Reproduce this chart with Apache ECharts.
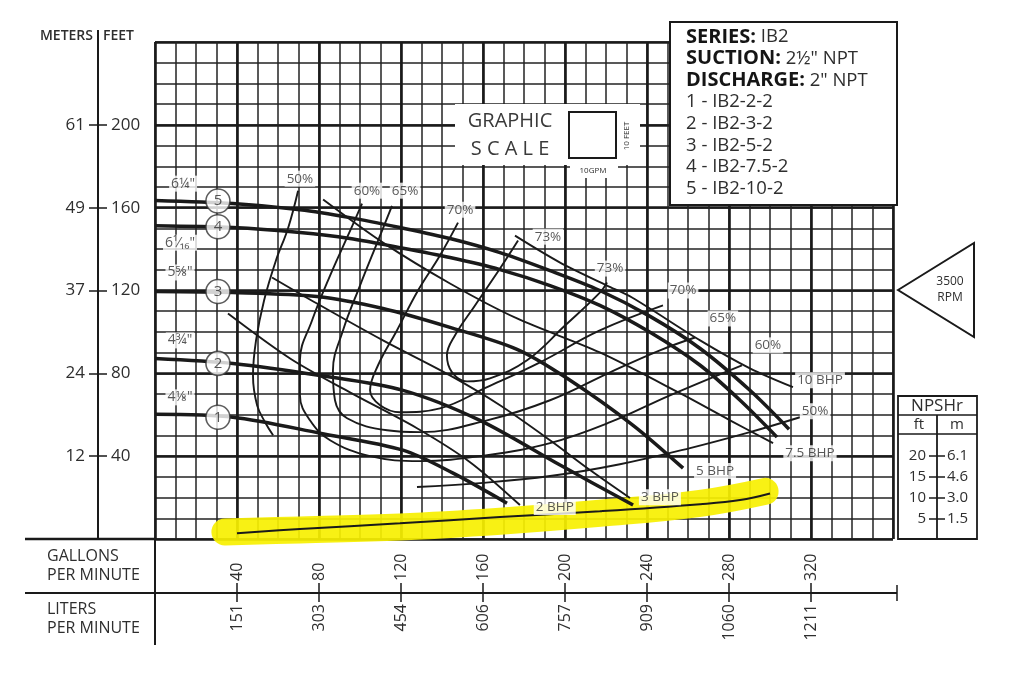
<!DOCTYPE html>
<html><head><meta charset="utf-8">
<script src="https://cdn.jsdelivr.net/npm/echarts@6/dist/echarts.min.js"></script>
<style>html,body{margin:0;padding:0;background:#fff}#c{width:1024px;height:675px}</style>
</head><body><div id="c"></div>
<script>
// ---- tick labels ----
const gpmTicks = [40, 80, 120, 160, 200, 240, 280, 320];
const lpmLabels = ['151', '303', '454', '606', '757', '909', '1060', '1211'];
const feetTicks = [40, 80, 120, 160, 200];
const meterLabels = ['12', '24', '37', '49', '61'];
const npshFtTicks = [5, 10, 15, 20];
const npshMLabels = ['1.5', '3.0', '4.6', '6.1'];
const models = ['IB2-2-2', 'IB2-3-2', 'IB2-5-2', 'IB2-7.5-2', 'IB2-10-2'];

// ---- impeller head curves [GPM, feet] ----
const impeller1 = [[0,60.2],[38,58.8],[80.5,51.1],[121,42.9],[145.4,31.8],[171.7,17.3]];
const impeller2 = [[0,87.2],[38,84.8],[80.5,79],[121,71.8],[158.5,57.3],[197.6,35.7],[233.2,16.4]];
const impeller3 = [[0,119.5],[38,119],[79,117.1],[111.2,111.3],[143.9,102.2],[176.6,91.6],[201,77.6],[233.2,54.9],[257.6,34.2]];
const impeller4 = [[0,151.3],[38,150.4],[70.7,148],[95.1,145.1],[119.5,140.7],[143.9,135.9],[168.3,130.1],[192.7,122.4],[217,112.8],[241.5,99.8],[265.9,83.9],[285.4,67],[303.4,49.2]];
const impeller5 = [[0,163.5],[38,162],[70.7,159],[95.1,155.2],[119.5,150.4],[143.9,145.1],[168.3,138.3],[192.7,129.6],[217,120],[241.5,107.5],[265.9,92],[290.2,71.8],[309.3,53]];
const circleNums = [['1',30.7,58.8],['2',30.7,84.8],['3',30.7,119.5],['4',30.7,150.8],['5',30.7,163.2]];
const diaLabels = [['6¼"',13.7,171.6],['6¹⁄₁₆"',12.2,143.1],['5⅝"',12.2,128.7],['4¾"',12.2,95.9],['4⅛"',12.2,68.4]];

// ---- BHP lines ----
const bhp2 = [[35.6,108.9],[65.9,87.2],[95.1,70.8],[127.8,53.5],[153.7,37.1],[178,16.4]];
const bhp3 = [[57.1,126.3],[79,113.7],[111.2,95.9],[143.9,79],[168.3,64.6],[192.7,47.7],[212.2,33.3],[231.7,19.8]];
const bhp75 = [[82,163.9],[111.2,143.1],[143.9,123.4],[176.6,106.5],[217,90.1],[256.1,70.4],[280.5,57.3],[301.5,46.3]];
const bhp10 = [[175.6,146.5],[197.6,133.5],[220.5,122.4],[232.7,116.6],[265.9,95.9],[290.2,82.4],[311.2,73.3]];

// ---- efficiency curves ----
const eff50a = [[69.8,168.2],[64.9,150.1],[59,134.5],[53.2,115.2],[49.3,96],[47.8,79],[49.8,64.6],[53.7,56.4],[57.6,50.1]];
const eff50b = [[127.8,25.1],[158.5,27],[192.7,30.4],[226.8,36.1],[261,43.9],[290.2,51.6],[314.6,58.8]];
const eff60 = [[101,161.9],[94.1,146.5],[85.4,127.2],[76.6,105.5],[70.7,86.3],[70.7,69.4],[75.6,57.3],[85.4,47.7],[104.9,40],[129.3,37.6],[162,40.5],[192.7,46.3],[222,56.4],[251.2,69.4],[286.3,83.9]];
const eff65 = [[115.6,160.9],[108.8,144.1],[100,122.4],[91.7,100.7],[86.8,81.4],[87.8,67],[93.7,58.3],[113.2,52.5],[129.3,51.6],[162,57.3],[192.7,67],[222,80.5],[246.3,91.1],[263.4,97.3]];
const eff70 = [[147.8,152.8],[139,136.9],[128.3,120],[118,100.7],[108.8,83.9],[104.9,71.8],[109.8,64.6],[119.5,61.2],[139,63.1],[162,73.3],[187.8,85.3],[217,100.7],[247.8,112.8]];
const eff73 = [[177.1,144.1],[168.3,130.6],[156.1,112.8],[146.3,98.3],[142.4,88.7],[144.9,80.5],[152.2,76.1],[163.4,77.6],[181.5,86.3],[200,103.1],[217,119],[220.5,123.9]];
const curveLabels = [['50%',70.7,174],['60%',103.4,168.2],['65%',122,168.2],['70%',148.8,159],['73%',191.7,146],
  ['73%',222,130.6],['70%',257.6,120],['65%',277,106.5],['60%',299,93.5],['10 BHP',324.4,76.6],['50%',322,61.7],
  ['7.5 BHP',319.5,41.4],['5 BHP',273.2,32.8],['3 BHP',246.3,20.2],['2 BHP',195,15.4]];

// ---- NPSHr [GPM, NPSH feet] ----
const npshr = [[40,1.4],[70.7,2.4],[119.5,3.8],[168.3,5.3],[217,6.7],[265.9,8.4],[285.4,9.4],[300,11]];
const highlight = [[34.1,1.7],[70.7,2.2],[119.5,2.9],[168.3,4.3],[217,6.2],[265.9,8.6],[297.6,11.5]];

const FONT = "'Open Sans','DejaVu Sans',sans-serif";
const INK = '#1a1a1a';
const TXT = '#2e2e2e';
const chart = echarts.init(document.getElementById('c'));

const hid = {axisLine:{show:false},axisTick:{show:false},axisLabel:{show:false}};
const xAxes = [
  Object.assign({type:'value',min:0,max:360,interval:10,position:'bottom',splitLine:{show:true,lineStyle:{color:'#222',width:1.5}}}, hid),
  Object.assign({type:'value',min:0,max:360,interval:40,position:'bottom',splitLine:{show:true,lineStyle:{color:INK,width:2.6}}}, hid),
  {type:'value',min:0,max:360,interval:40,position:'bottom',offset:54,splitLine:{show:false},
   axisLine:{show:true,onZero:false,lineStyle:{color:INK,width:2}},
   axisTick:{show:true,inside:true,length:10,customValues:gpmTicks,lineStyle:{color:INK,width:1.5}},
   axisLabel:{show:true,inside:true,rotate:90,margin:12,customValues:gpmTicks,fontSize:16,color:TXT,fontFamily:FONT}},
  {type:'value',min:0,max:360,interval:40,position:'bottom',offset:54,splitLine:{show:false},
   axisLine:{show:false,onZero:false},
   axisTick:{show:true,inside:false,length:9,customValues:gpmTicks,lineStyle:{color:INK,width:1.5}},
   axisLabel:{show:true,inside:false,rotate:90,margin:11,customValues:gpmTicks,fontSize:16,color:TXT,fontFamily:FONT,
     formatter:v=>{const i=gpmTicks.indexOf(v);return i<0?'':lpmLabels[i];}}}
];
const yAxes = [
  Object.assign({type:'value',min:0,max:240,interval:10,position:'left',splitLine:{show:true,lineStyle:{color:'#222',width:1.5}}}, hid),
  Object.assign({type:'value',min:0,max:240,interval:40,position:'left',splitLine:{show:true,lineStyle:{color:INK,width:2.6}}}, hid),
  {type:'value',min:0,max:240,interval:40,position:'left',offset:57,splitLine:{show:false},
   axisLine:{show:true,onZero:false,lineStyle:{color:INK,width:2}},
   axisTick:{show:true,inside:true,length:9,customValues:feetTicks,lineStyle:{color:INK,width:1.5}},
   axisLabel:{show:true,inside:true,margin:13,customValues:feetTicks,fontSize:17,color:TXT,fontFamily:FONT}},
  {type:'value',min:0,max:240,interval:40,position:'left',offset:57,splitLine:{show:false},
   axisLine:{show:false,onZero:false},
   axisTick:{show:true,inside:false,length:9,customValues:feetTicks,lineStyle:{color:INK,width:1.5}},
   axisLabel:{show:true,inside:false,margin:13,customValues:feetTicks,fontSize:17,color:TXT,fontFamily:FONT,
     formatter:v=>{const i=feetTicks.indexOf(v);return i<0?'':meterLabels[i];}}},
  {type:'value',min:0,max:120,interval:5,position:'right',offset:44,splitLine:{show:false},
   axisLine:{show:false,onZero:false},
   axisTick:{show:true,inside:true,length:8,customValues:npshFtTicks,lineStyle:{color:INK,width:1.5}},
   axisLabel:{show:true,inside:true,margin:11,customValues:npshFtTicks,fontSize:15,color:TXT,fontFamily:FONT}},
  {type:'value',min:0,max:120,interval:5,position:'right',offset:44,splitLine:{show:false},
   axisLine:{show:false,onZero:false},
   axisTick:{show:true,inside:false,length:8,customValues:npshFtTicks,lineStyle:{color:INK,width:1.5}},
   axisLabel:{show:true,inside:false,margin:10,customValues:npshFtTicks,fontSize:15,color:TXT,fontFamily:FONT,
     formatter:v=>{const i=npshFtTicks.indexOf(v);return i<0?'':npshMLabels[i];}}}
];

function curve(data, width, smooth, extra) {
  return Object.assign({type:'line',data:data,xAxisIndex:0,yAxisIndex:0,symbol:'none',smooth:smooth,
    lineStyle:{color:INK,width:width},z:3,silent:true}, extra||{});
}
const thin = 1.9, thick = 3.5;
const series = [
  {type:'line',data:highlight,xAxisIndex:0,yAxisIndex:4,symbol:'none',smooth:0.4,clip:false,z:1,
   lineStyle:{color:'#f7f000',width:27,cap:'round',join:'round',opacity:0.92}},
  curve(eff50a,thin,0.4), curve(eff50b,thin,0.4), curve(eff60,thin,0.4), curve(eff65,thin,0.4),
  curve(eff70,thin,0.4), curve(eff73,thin,0.4),
  curve(bhp2,thin,0.3), curve(bhp3,thin,0.3), curve(bhp75,thin,0.3), curve(bhp10,thin,0.3),
  curve(impeller1,thick,0.3,{z:4}), curve(impeller2,thick,0.3,{z:4}), curve(impeller3,thick,0.3,{z:4}),
  curve(impeller4,thick,0.3,{z:4}), curve(impeller5,thick,0.3,{z:4}),
  {type:'line',data:npshr,xAxisIndex:0,yAxisIndex:4,symbol:'none',smooth:0.4,z:4,
   lineStyle:{color:INK,width:2}},
  {type:'scatter',xAxisIndex:0,yAxisIndex:0,z:6,symbolSize:1,itemStyle:{color:'rgba(0,0,0,0)'},
   data:curveLabels.map(d=>[d[1],d[2],d[0]]),
   label:{show:true,position:'inside',formatter:p=>p.data[2],fontSize:13.5,color:TXT,fontFamily:FONT,
     backgroundColor:'#fff',padding:[1,2]}},
  {type:'scatter',xAxisIndex:0,yAxisIndex:0,z:6,symbolSize:1,itemStyle:{color:'rgba(0,0,0,0)'},
   data:diaLabels.map(d=>[d[1],d[2],d[0]]),
   label:{show:true,position:'inside',formatter:p=>p.data[2],fontSize:14,color:TXT,fontFamily:FONT,
     backgroundColor:'#fff',padding:[1,2]}},
  {type:'scatter',xAxisIndex:0,yAxisIndex:0,z:7,symbol:'circle',symbolSize:24,
   itemStyle:{color:'#fff',borderColor:'#333',borderWidth:1.6},
   data:circleNums.map(d=>[d[1],d[2],d[0]]),
   label:{show:true,position:'inside',formatter:p=>p.data[2],fontSize:15,color:TXT,fontFamily:FONT}}
];

const G = [];
function line(x1,y1,x2,y2,w){G.push({type:'line',z:50,shape:{x1,y1,x2,y2},style:{stroke:INK,lineWidth:w}});}
function txt(x,y,t,size,align,fill,weight){G.push({type:'text',z:102,x:x,y:y,
  style:{text:t,fill:fill||TXT,font:(weight||'normal')+' '+size+'px '+FONT,align:align||'left',verticalAlign:'middle'}});}
// axis extensions
line(98,30,98,43,2);
line(25,539,156,539,2.4);
line(25,593,156,593,2);
line(892,593,897,593,2); line(897,585,897,601,1.5);
line(155,539,155,645,2);
txt(93,36,'METERS',14,'right',TXT,'600');
txt(103,36,'FEET',14,'left',TXT,'600');
txt(47,556,'GALLONS',16); txt(47,575,'PER MINUTE',16);
txt(47,609,'LITERS',16); txt(47,628,'PER MINUTE',16);
// legend box
G.push({type:'rect',z:100,shape:{x:670,y:22,width:227,height:183},style:{fill:'#fff',stroke:INK,lineWidth:2}});
const heads = [['SERIES:',' IB2'],['SUCTION:',' 2½" NPT'],['DISCHARGE:',' 2" NPT']];
const legendLines = heads.map(h=>'{b|'+h[0]+'}'+h[1]).concat(models.map((m,i)=>(i+1)+' - '+m));
legendLines.forEach((t,i)=>{
  G.push({type:'text',z:102,x:686,y:37+i*21.7,style:{text:t,fill:TXT,font:'18.5px '+FONT,verticalAlign:'middle',
    rich:{b:{fontWeight:'bold',fontSize:20,fontFamily:FONT,fill:'#151515'}}}});
});
// RPM triangle
G.push({type:'polygon',z:100,shape:{points:[[898,290],[974,243],[974,337]]},style:{fill:'#fff',stroke:INK,lineWidth:2}});
txt(950,282,'3500',12,'center'); txt(950,298,'RPM',12,'center');
// NPSHr box
G.push({type:'rect',z:100,shape:{x:898,y:396,width:79,height:143},style:{fill:'none',stroke:INK,lineWidth:1.8}});
line(898,415,977,415,1.5); line(898,434,977,434,1.5); line(937,415,937,539,1.8);
txt(937,406,'NPSHr',17,'center'); txt(919,425,'ft',15,'center'); txt(957,425,'m',15,'center');
// graphic scale
G.push({type:'rect',z:100,shape:{x:455,y:104,width:185,height:61},style:{fill:'#fff'}});
G.push({type:'rect',z:100,shape:{x:570,y:164,width:48,height:14},style:{fill:'#fff'}});
G.push({type:'rect',z:101,shape:{x:569,y:112,width:47,height:46},style:{fill:'#fff',stroke:INK,lineWidth:2}});
txt(510,121,'GRAPHIC',20,'center','#3a3a3a');
txt(510,149,'S C A L E',20,'center','#3a3a3a');
txt(593,171,'10GPM',8,'center');
G.push({type:'text',z:102,x:627,y:136,rotation:Math.PI/2,style:{text:'10 FEET',fill:TXT,font:'8px '+FONT,align:'center',verticalAlign:'middle'}});

chart.setOption({
  animation:false,
  backgroundColor:'#fff',
  grid:{left:155,right:131,top:42,bottom:136,containLabel:false},
  xAxis:xAxes, yAxis:yAxes, series:series, graphic:G
});
</script></body></html>
